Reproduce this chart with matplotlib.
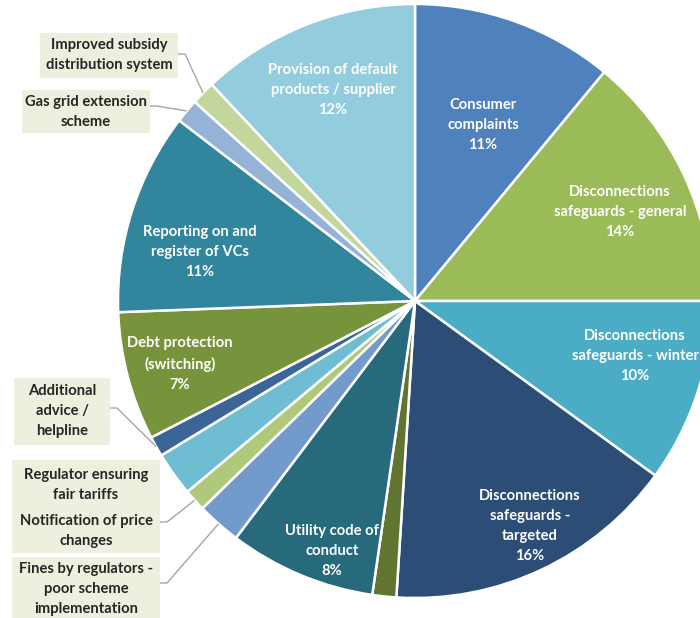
import matplotlib
matplotlib.use("Agg")
import matplotlib.pyplot as plt
from matplotlib.patches import Rectangle
import numpy as np

# ---- data -------------------------------------------------------------
categories = [
    "Consumer complaints",
    "Disconnections safeguards - general",
    "Disconnections safeguards - winter",
    "Disconnections safeguards - targeted",
    "Other",
    "Utility code of conduct",
    "Fines by regulators - poor scheme implementation",
    "Notification of price changes",
    "Regulator ensuring fair tariffs",
    "Additional advice / helpline",
    "Debt protection (switching)",
    "Reporting on and register of VCs",
    "Gas grid extension scheme",
    "Improved subsidy distribution system",
    "Provision of default products / supplier",
]
shares = [11, 14, 10, 16, 1.3, 8, 2.4, 1.2, 2.4, 1.1, 7, 11, 1.3, 1.3, 12]

# wrapped text shown inside the larger wedges
inside_text = {
    0: "Consumer\ncomplaints",
    1: "Disconnections\nsafeguards - general",
    2: "Disconnections\nsafeguards - winter",
    3: "Disconnections\nsafeguards -\ntargeted",
    5: "Utility code of\nconduct",
    10: "Debt protection\n(switching)",
    11: "Reporting on and\nregister of VCs",
    14: "Provision of default\nproducts / supplier",
}
# wrapped text for the small wedges shown in side boxes
callout_text = {
    13: "Improved subsidy\ndistribution system",
    12: "Gas grid extension\nscheme",
    9: "Additional\nadvice /\nhelpline",
    8: "Regulator ensuring\nfair tariffs",
    7: "Notification of price\nchanges",
    6: "Fines by regulators -\npoor scheme\nimplementation",
}

colors = [
    "#4F81BD", "#9BBB59", "#4BACC6", "#2C4D75", "#5F7530",
    "#276A7C", "#729ACA", "#AFC97A", "#6FBDD3", "#3A6596",
    "#77933C", "#31859C", "#95B3D7", "#C3D69B", "#93CDDD",
]

# ---- layout (pixel space of a 700 x 618 canvas) -----------------------
W, H = 700, 618
CX, CY, R = 415, 301, 297


def px(x, y):
    """Pixel position -> data coordinates (unit pie radius)."""
    return (x - CX) / R, (CY - y) / R


inside_pos = {
    0: (483, 125), 1: (620, 212), 2: (635, 356), 3: (530, 526),
    5: (332, 551), 10: (180, 364), 11: (200, 252), 14: (333, 90),
}
# box extents: (x0, y0, x1, y1)
boxes = [(40, 33, 178, 78), (22, 90, 150, 133), (14, 378, 110, 445),
         (12, 460, 160, 553), (12, 557, 160, 618)]
callout_pos = {
    13: (109, 55), 12: (86, 112), 9: (62, 411),
    8: (86, 485), 7: (86, 531), 6: (86, 589),
}
# leader lines: start on the box edge, short horizontal run, then to wedge
leader_start = {
    13: (178, 54), 12: (150, 106), 9: (110, 408),
    7: (160, 522), 6: (160, 583),
}

FONT = ["Lato", "DejaVu Sans"]
FS = 10.6
LS = 1.52

fig = plt.figure(figsize=(W / 100, H / 100), dpi=100)
ax = fig.add_axes([0, 0, 1, 1])

wedges, _ = ax.pie(
    shares,
    colors=colors,
    startangle=90,
    counterclock=False,
    radius=1.0,
    wedgeprops=dict(edgecolor="white", linewidth=1.8),
)

ax.set_aspect("auto")
ax.set_xlim(-CX / R, (W - CX) / R)
ax.set_ylim(-(H - CY) / R, CY / R)
ax.axis("off")

# labels inside the large wedges
for i, txt in inside_text.items():
    x, y = px(*inside_pos[i])
    ax.text(x, y, f"{txt}\n{shares[i]:.0f}%", color="white",
            ha="center", va="center", fontsize=FS, fontweight="bold",
            family=FONT, linespacing=LS, zorder=5)

# side boxes
for x0, y0, x1, y1 in boxes:
    bx, by = px(x0, y1)
    ax.add_patch(Rectangle((bx, by), (x1 - x0) / R, (y1 - y0) / R,
                           facecolor="#EBF1DE", edgecolor="none",
                           zorder=3, clip_on=False))

for i, txt in callout_text.items():
    x, y = px(*callout_pos[i])
    ax.text(x, y, txt, color="#262626", ha="center", va="center",
            fontsize=FS, fontweight="bold", family=FONT,
            linespacing=LS, zorder=6)

# leader lines to the small wedges
for i, (sx, sy) in leader_start.items():
    w = wedges[i]
    mid = np.deg2rad((w.theta1 + w.theta2) / 2)
    ex, ey = np.cos(mid) * 1.0, np.sin(mid) * 1.0
    x0, y0 = px(sx, sy)
    x1, y1 = px(sx + 7, sy)
    ax.plot([x0, x1, ex], [y0, y1, ey], color="#A6A6A6", lw=1.0,
            zorder=4, solid_capstyle="butt")

fig.savefig("out.png", dpi=100, facecolor="white")
